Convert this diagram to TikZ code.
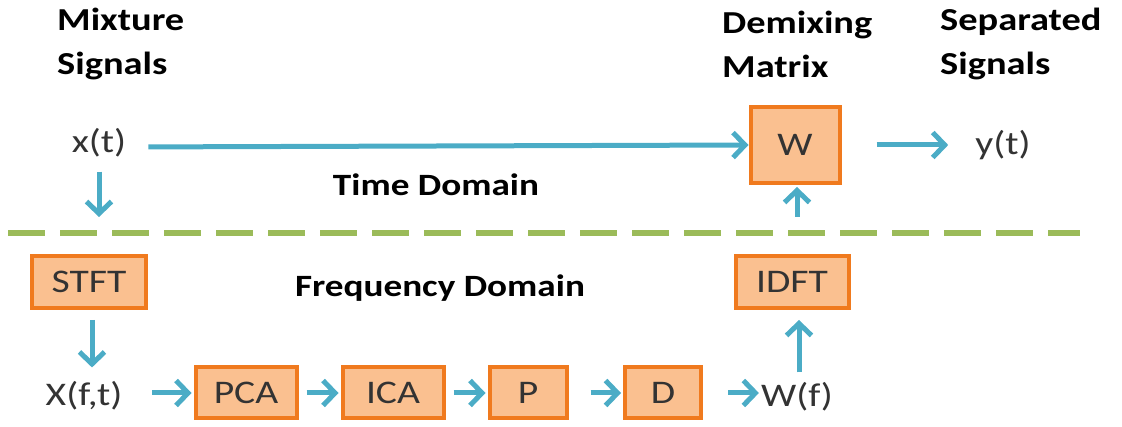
\documentclass[tikz,border=0pt]{standalone}
\usepackage{fontspec}
\setmainfont{Carlito}[FakeStretch=1.2]
\usetikzlibrary{arrows.meta}
\definecolor{boxfill}{HTML}{FAC090}
\definecolor{boxdraw}{HTML}{F07A1E}
\definecolor{arrowblue}{HTML}{4BACC6}
\definecolor{dashgreen}{HTML}{9BBB59}
\definecolor{txtgray}{HTML}{333333}
\tikzset{
  lbl/.style={inner sep=0pt, text=txtgray, font=\fontsize{33}{40}\selectfont},
  ttl/.style={inner sep=0pt, align=left, text=black, font=\fontsize{32}{44}\selectfont\bfseries},
  domlbl/.style={inner sep=0pt, text=black, font=\fontsize{31}{40}\selectfont\bfseries},
  blk/.style={draw=boxdraw, fill=boxfill, line width=4pt, inner sep=0pt, text=txtgray,
    font=\fontsize{33}{40}\selectfont},
  flow/.style={draw=arrowblue, line width=5pt, -{Straight Barb[length=12pt,width=25pt]}},
  sepline/.style={draw=dashgreen, line width=6pt, dash pattern=on 37pt off 15pt}
}
\begin{document}
\begin{tikzpicture}[x=1pt,y=-1pt]
\useasboundingbox (0,0) rectangle (1122,427);
% titles
\node[ttl, anchor=west] (mix) at (57,44) {Mixture\\Signals};
\node[ttl, anchor=west] (dem) at (722,44) {Demixing\\Matrix};
\node[ttl, anchor=west] (sepd) at (940,44) {Separated\\Signals};
\node[domlbl] (td) at (436,185) {Time Domain};
\node[domlbl] (fd) at (440,288) {Frequency Domain};
% separator
\coordinate (sl) at (8,233);
\coordinate (sr) at (1080,233);
\draw[sepline] (sl) -- (sr);
% nodes
\node[lbl] (xt) at (99,143) {x(t)};
\node[blk, minimum width=89pt, minimum height=76pt] (W) at (795,145) {W};
\node[lbl] (yt) at (1003,145) {y(t)};
\node[blk, minimum width=114pt, minimum height=52pt] (stft) at (89,282) {STFT};
\node[lbl] (xft) at (84,396) {X(f,t)};
\node[blk, minimum width=101pt, minimum height=51pt] (pca) at (246,393) {PCA};
\node[blk, minimum width=101pt, minimum height=51pt] (ica) at (393,393) {ICA};
\node[blk, minimum width=77pt, minimum height=51pt] (p) at (528,393) {P};
\node[blk, minimum width=76pt, minimum height=51pt] (d) at (663,393) {D};
\node[lbl] (wf) at (797,397) {W(f)};
\node[blk, minimum width=113pt, minimum height=52pt] (idft) at (792,282) {IDFT};
% connectors
\draw[flow, shorten <=22pt] ([yshift=-4pt]xt.east) -- (W.west);
\draw[flow, shorten <=35pt, shorten >=27pt] (W.east) -- (yt.west);
\draw[flow, shorten <=14pt, shorten >=37pt] (xt.south) -- (xt.south |- stft.north);
\draw[flow, shorten <=10pt, shorten >=14pt] ([xshift=3pt]stft.south) -- ([xshift=3pt]stft.south |- xft.north);
\draw[flow, shorten <=30pt, shorten >=2pt] (xft.east |- pca.west) -- (pca.west);
\draw[flow, shorten <=8pt, shorten >=2pt] (pca.east) -- (ica.west);
\draw[flow, shorten <=8pt, shorten >=2pt] (ica.east) -- (p.west);
\draw[flow, shorten <=22pt, shorten >=2pt] (p.east) -- (d.west);
\draw[flow, shorten <=25pt, shorten >=2pt] (d.east) -- (wf.west |- d.east);
\draw[flow, shorten <=10pt, shorten >=10pt] ([xshift=2pt]wf.north) -- ([xshift=2pt]wf.north |- idft.south);
\draw[flow, shorten <=37pt, shorten >=2pt] ([xshift=5pt]idft.north) -- ([xshift=5pt]idft.north |- W.south);
\end{tikzpicture}
\end{document}
